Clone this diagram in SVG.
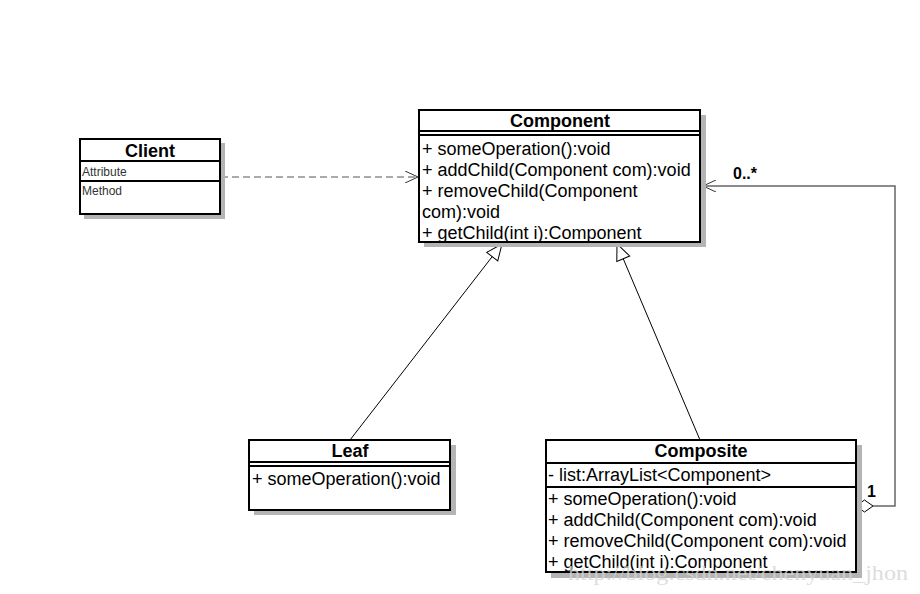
<svg xmlns="http://www.w3.org/2000/svg" width="920" height="594" viewBox="0 0 920 594">
<style>
.box{fill:#fff;stroke:#000;stroke-width:2}
.sh{fill:#b4b4b4}
.ln{stroke:#000;stroke-width:2;fill:none}
.t{font-family:"Liberation Sans",Arial,sans-serif;font-size:18px;fill:#000}
.ts{font-family:"Liberation Sans",Arial,sans-serif;font-size:12px;fill:#333}
.h{font-family:"Liberation Sans",Arial,sans-serif;font-size:18px;font-weight:bold;fill:#000}
.c{stroke:#000;stroke-width:1;fill:none}
.cg{stroke:#666;stroke-width:1.5;fill:none}
.lbl{font-family:"Liberation Sans",Arial,sans-serif;font-size:16px;font-weight:bold;fill:#000}
</style>
<defs>
<marker id="open" markerWidth="14" markerHeight="12" refX="13" refY="6" orient="auto" markerUnits="userSpaceOnUse">
<path d="M0,0 L13,6 L0,12" fill="none" stroke="#333" stroke-width="1"/>
</marker>
<marker id="tri" markerWidth="18" markerHeight="16" refX="17" refY="8" orient="auto" markerUnits="userSpaceOnUse">
<path d="M1,1 L17,8 L1,15 Z" fill="#fff" stroke="#000" stroke-width="1"/>
</marker>
</defs>
<rect width="920" height="594" fill="#fff"/>

<g id="connectors">
<line x1="221" y1="177" x2="418" y2="177" stroke="#555" stroke-width="1" stroke-dasharray="7,4" marker-end="url(#open)"/>
<line x1="350" y1="440" x2="502" y2="244" class="c" marker-end="url(#tri)"/>
<line x1="700" y1="440" x2="617" y2="244" class="c" marker-end="url(#tri)"/>
<polyline points="873,506 895,506 895,186 703,186" class="cg" marker-end="url(#open)"/>
<path d="M856,506 L864.5,500 L873,506 L864.5,512 Z" fill="#fff" stroke="#000" stroke-width="1"/>
<text x="733" y="179" class="lbl">0..*</text>
<text x="867" y="497" class="lbl">1</text>
</g>

<g id="client">
<rect x="84" y="143" width="141" height="76" class="sh"/>
<rect x="80" y="139" width="140" height="75" class="box"/>
<line x1="80" y1="161" x2="220" y2="161" class="ln"/>
<line x1="80" y1="181" x2="220" y2="181" class="ln"/>
<text x="150" y="157" text-anchor="middle" class="h">Client</text>
<text x="82" y="176" class="ts">Attribute</text>
<text x="82" y="195" class="ts">Method</text>
</g>

<g id="component">
<rect x="424" y="115" width="282" height="132" class="sh"/>
<rect x="419" y="110" width="281" height="132" class="box"/>
<line x1="419" y1="131" x2="700" y2="131" class="ln"/>
<line x1="419" y1="135" x2="700" y2="135" class="ln"/>
<text x="560" y="127" text-anchor="middle" class="h">Component</text>
<text x="422" y="155" class="t">+ someOperation():void</text>
<text x="422" y="176" class="t">+ addChild(Component com):void</text>
<text x="422" y="197" class="t">+ removeChild(Component</text>
<text x="422" y="218" class="t">com):void</text>
<text x="422" y="239" class="t">+ getChild(int i):Component</text>
</g>

<g id="leaf">
<rect x="254" y="445" width="202" height="70" class="sh"/>
<rect x="249" y="440" width="201" height="70" class="box"/>
<line x1="249" y1="462" x2="450" y2="462" class="ln"/>
<line x1="249" y1="466" x2="450" y2="466" class="ln"/>
<text x="350" y="457" text-anchor="middle" class="h">Leaf</text>
<text x="252" y="485" class="t">+ someOperation():void</text>
</g>

<g id="composite">
<rect x="551" y="445" width="311" height="133" class="sh"/>
<rect x="546" y="440" width="310" height="132" class="box"/>
<line x1="546" y1="463" x2="856" y2="463" class="ln"/>
<line x1="546" y1="487" x2="856" y2="487" class="ln"/>
<text x="701" y="457" text-anchor="middle" class="h">Composite</text>
<text x="548" y="481" class="t">- list:ArrayList&lt;Component&gt;</text>
<text x="548" y="505" class="t">+ someOperation():void</text>
<text x="548" y="526" class="t">+ addChild(Component com):void</text>
<text x="548" y="547" class="t">+ removeChild(Component com):void</text>
<text x="548" y="568" class="t">+ getChild(int i):Component</text>
</g>

<text x="568" y="580" font-family="'Liberation Serif',serif" font-size="22" textLength="340" lengthAdjust="spacingAndGlyphs" fill="#d4d4d4" fill-opacity="0.8">http://blog.csdn.net/chenyuan_jhon</text>
</svg>
